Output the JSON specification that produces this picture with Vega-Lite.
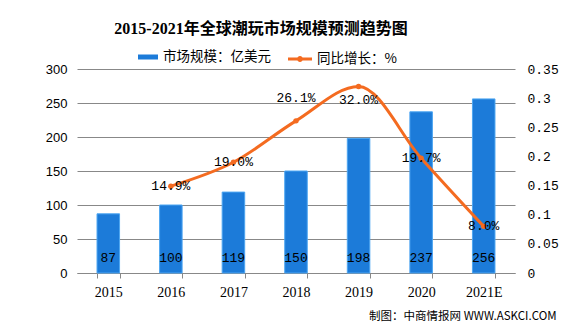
{
  "$schema": "https://vega.github.io/schema/vega-lite/v6.json",
  "width": 438,
  "height": 204,
  "autosize": {"type": "none"},
  "padding": {"left": 77, "top": 69, "right": 61, "bottom": 53},
  "background": "white",
  "config": {"view": {"stroke": null}, "axis": {"labelColor": "#000000", "domainColor": "#888888", "tickColor": "#888888", "gridColor": "#888888"}},
  "title": {
    "text": "2015-2021年全球潮玩市场规模预测趋势图",
    "font": "Liberation Serif, Noto Sans CJK SC",
    "fontSize": 16,
    "fontWeight": "bold",
    "color": "#000000",
    "anchor": "middle",
    "frame": "group",
    "baseline": "middle",
    "offset": 2,
    "dx": -35
  },
  "data": {
    "values": [
      {"year": "2015", "size": 87, "growth": null, "label": "87", "pct": null},
      {"year": "2016", "size": 100, "growth": 0.149, "label": "100", "pct": "14.9%"},
      {"year": "2017", "size": 119, "growth": 0.19, "label": "119", "pct": "19.0%"},
      {"year": "2018", "size": 150, "growth": 0.261, "label": "150", "pct": "26.1%"},
      {"year": "2019", "size": 198, "growth": 0.32, "label": "198", "pct": "32.0%"},
      {"year": "2020", "size": 237, "growth": 0.197, "label": "237", "pct": "19.7%"},
      {"year": "2021E", "size": 256, "growth": 0.08, "label": "256", "pct": "8.0%"}
    ]
  },
  "encoding": {
    "x": {
      "field": "year",
      "type": "nominal",
      "sort": null,
      "scale": {"paddingInner": 0.64, "paddingOuter": 0.32},
      "axis": {
        "labelAngle": 0,
        "labelFont": "Liberation Serif",
        "labelFontSize": 14,
        "labelPadding": 7,
        "tickBand": "extent",
        "tickSize": 5,
        "domainColor": "#888888",
        "grid": false,
        "title": "制图：中商情报网 WWW.ASKCI.COM",
        "titleFont": "Noto Sans CJK SC",
        "titleFontSize": 11.5,
        "titleFontWeight": "normal",
        "titleColor": "#000000",
        "titleX": 479,
        "titleY": 43,
        "titleAlign": "right",
        "titleAnchor": null,
        "titleBaseline": "middle"
      }
    }
  },
  "layer": [
    {
      "mark": {"type": "bar", "stroke": "#4DA6F2", "strokeWidth": 1},
      "encoding": {
        "y": {
          "field": "size",
          "type": "quantitative",
          "scale": {"domain": [0, 300], "nice": false},
          "axis": {
            "values": [0, 50, 100, 150, 200, 250, 300],
            "labelOverlap": false,
            "title": null,
            "grid": true,
            "domain": false,
            "ticks": false,
            "labelPadding": 10,
            "labelFont": "Liberation Sans",
            "labelFontSize": 13
          }
        },
        "fill": {
          "datum": "市场规模：亿美元",
          "scale": {"range": ["#1C7BD9"]},
          "legend": {
            "orient": "none",
            "legendX": 61,
            "legendY": -22,
            "title": null,
            "padding": 0,
            "symbolType": "M-1,-0.25L1,-0.25L1,0.25L-1,0.25Z",
            "symbolSize": 400,
            "symbolStrokeWidth": 0,
            "labelFont": "Noto Sans CJK SC",
            "labelFontSize": 13.5,
            "labelColor": "#000000",
            "labelOffset": 5
          }
        }
      }
    },
    {
      "mark": {"type": "text", "font": "Liberation Mono", "fontSize": 13, "color": "#000000", "baseline": "bottom", "dy": -8, "y": "height"},
      "encoding": {
        "text": {"field": "label"}
      }
    },
    {
      "transform": [{"filter": "datum.growth != null"}],
      "encoding": {
        "y": {
          "field": "growth",
          "type": "quantitative",
          "scale": {"domain": [0, 0.35], "nice": false},
          "axis": {
            "orient": "right",
            "values": [0, 0.05, 0.1, 0.15, 0.2, 0.25, 0.3, 0.35],
            "labelOverlap": false,
            "format": "~g",
            "title": null,
            "grid": false,
            "domain": false,
            "ticks": false,
            "labelPadding": 12,
            "labelFont": "Liberation Mono",
            "labelFontSize": 13
          }
        }
      },
      "layer": [
        {
          "mark": {"type": "line", "interpolate": "monotone", "strokeWidth": 3},
          "encoding": {
            "stroke": {
              "datum": "同比增长：%",
              "scale": {"range": ["#F46B20"]},
              "legend": {
                "orient": "none",
                "legendX": 211,
                "legendY": -22,
                "title": null,
                "padding": 0,
                "symbolType": "M-1,-0.12L1,-0.12L1,0.12L-1,0.12Z M0.25,0A0.25,0.25,0,1,1,-0.25,0A0.25,0.25,0,1,1,0.25,0Z",
                "symbolSize": 576,
                "symbolFillColor": "#F46B20",
                "symbolStrokeWidth": 0,
                "labelFont": "Noto Sans CJK SC",
                "labelFontSize": 13.5,
                "labelColor": "#000000",
                "labelOffset": 5,
                "encode": {"symbols": {"update": {"fill": {"value": "#F46B20"}, "strokeWidth": {"value": 0}}}}
              }
            }
          }
        },
        {
          "mark": {"type": "point", "filled": true, "size": 30, "opacity": 1, "color": "#F46B20"}
        },
        {
          "transform": [{"filter": {"field": "year", "oneOf": ["2016", "2017", "2020", "2021E"]}}],
          "mark": {"type": "text", "font": "Liberation Mono", "fontSize": 13, "color": "#000000", "baseline": "middle"},
          "encoding": {"text": {"field": "pct"}}
        },
        {
          "transform": [{"filter": {"field": "year", "equal": "2018"}}],
          "mark": {"type": "text", "font": "Liberation Mono", "fontSize": 13, "color": "#000000", "baseline": "middle", "dy": -23},
          "encoding": {"text": {"field": "pct"}}
        },
        {
          "transform": [{"filter": {"field": "year", "equal": "2019"}}],
          "mark": {"type": "text", "font": "Liberation Mono", "fontSize": 13, "color": "#000000", "baseline": "middle", "dy": 14},
          "encoding": {"text": {"field": "pct"}}
        }
      ]
    }
  ],
  "resolve": {"scale": {"y": "independent"}}
}
